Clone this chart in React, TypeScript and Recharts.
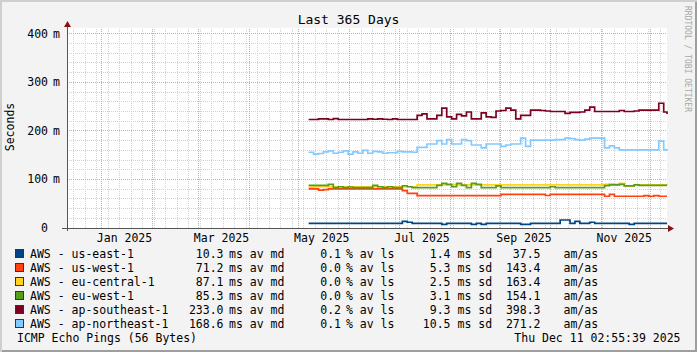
import { LineChart, Line, XAxis, YAxis, CartesianGrid, ReferenceLine } from "recharts";

const FONT = "'DejaVu Sans Mono', monospace";

// day 0 = 11 Dec 2024, day 365 = 11 Dec 2025
const days = Array.from({ length: 73 }, (_, i) => 147 + 3 * i).concat([365]);

const seriesNames = [
  "AWS - us-east-1",
  "AWS - us-west-1",
  "AWS - eu-central-1",
  "AWS - eu-west-1",
  "AWS - ap-southeast-1",
  "AWS - ap-northeast-1",
];
const seriesKeys = ["usEast", "usWest", "euCentral", "euWest", "apSoutheast", "apNortheast"];
const seriesColors = ["#004586", "#ff420e", "#ffd320", "#579d1c", "#7e0021", "#83caff"];

const usEast = [
  9.7, 9.7, 9.7, 9.7, 9.7, 9.7, 9.7, 9.7, 9.7, 9.7,
  9.7, 9.7, 9.7, 9.7, 9.7, 9.7, 9.7, 9.7, 9.7, 13.8,
  11.8, 9.7, 9.7, 9.7, 9.7, 9.7, 9.7, 7.6, 9.7, 9.7,
  9.7, 9.7, 9.7, 7.6, 9.7, 7.6, 9.7, 9.7, 9.7, 9.7,
  9.7, 9.7, 9.7, 7.6, 7.6, 9.7, 9.7, 9.7, 9.7, 9.7,
  9.7, 16.5, 16.5, 9.7, 13.8, 9.7, 9.7, 11.8, 9.7, 9.7,
  9.7, 9.7, 9.7, 9.7, 9.7, 7.6, 9.7, 9.7, 9.7, 9.7,
  9.7, 9.7, 9.7, 9.7,
];
const usWest = [
  80.4, 80.4, 78, 79, 80.4, 80.4, 80.4, 80.4, 80.4, 80.4,
  80.4, 80.4, 80.4, 80.4, 80.4, 80.4, 80.4, 80.4, 80.4, 77,
  71.5, 71.5, 66.7, 66.7, 66.7, 66.7, 66.7, 66.7, 66.7, 66.7,
  66.7, 66.7, 66.7, 66.7, 66.7, 66.7, 66.7, 66.7, 66.7, 69.4,
  69.4, 69.4, 69.4, 69.4, 69.4, 69.4, 69.4, 69.4, 67, 69.4,
  69.4, 69.4, 69.4, 69.4, 69.4, 69.4, 69.4, 69.4, 69.4, 69.4,
  65.4, 69.4, 65.4, 65.4, 65.4, 65.4, 65.4, 65.4, 66.7, 65.4,
  66.7, 65.4, 65.4, 65.4,
];
const euCentral = [
  84, 85, 85, 85, 85, 85, 85, 85, 85, 85,
  85, 85, 85, 85, 85, 85, 85, 85, 85, 85,
  85, 85, 88.7, 88.7, 88.7, 88.7, 88.7, 88.7, 88.7, 88.7,
  88.7, 88.7, 88.7, 88.7, 88.7, 88.7, 88.7, 88.7, 88.7, 88.7,
  88.7, 88.7, 88.7, 88.7, 88.7, 88.7, 88.7, 88.7, 88.7, 88.7,
  88.7, 88.7, 88.7, 88.7, 88.7, 88.7, 88.7, 88.7, 88.7, 88.7,
  90, 91, 90, 92, 86.5, 86.5, 88.7, 88.7, 88.7, 88.7,
  88.7, 88.7, 88.7, 88,
];
const euWest = [
  88, 88, 88, 88, 90, 83, 85, 83, 84.5, 83,
  83, 83, 83, 88, 85, 83, 85, 83, 83, 87,
  85, 83, 83, 83, 83, 83, 88, 92, 90, 85,
  92, 88, 83, 92, 90, 83, 83, 83, 86.6, 83,
  83, 83, 83, 83, 83, 83, 83, 83, 83, 85,
  83, 83, 83, 83, 83, 83, 83, 83, 83, 83,
  87.3, 88.7, 88.7, 90, 86.6, 86.6, 88.7, 88, 88, 88,
  88, 88, 88, 88,
];
const apSoutheast = [
  223.5, 223.5, 225, 225, 223.5, 225.5, 223.5, 223.5, 223.5, 223.5,
  223.5, 223.5, 225, 224, 225, 224, 223.5, 225, 223.5, 223.5,
  223.5, 223.5, 232, 235, 225, 225, 232, 247, 229, 225,
  234, 231, 239, 225, 225, 237, 229, 228, 241, 242,
  247, 243, 225, 232, 232, 243, 243, 242, 241, 240,
  240, 240, 236, 238, 238, 239, 243, 249, 240, 240,
  240, 240, 240, 242, 240, 240, 241, 243, 243, 243,
  243, 257, 239, 235,
];
const apNortheast = [
  156, 152, 153.5, 157, 159, 154, 156, 159, 152, 157,
  154, 160, 154, 158, 157, 154, 155, 155, 158, 157,
  157, 156, 166, 166, 173, 173, 180, 173, 182, 173,
  173, 182, 180, 171, 171, 165, 173, 173, 173, 168,
  171, 173, 173, 185, 168, 181, 181, 181, 181, 181,
  182, 182, 185, 184, 182, 181, 183, 185, 185, 185,
  165, 169, 165, 161, 161, 161, 161, 161, 161, 161,
  161, 179, 161, 159,
];
const seriesValues = [usEast, usWest, euCentral, euWest, apSoutheast, apNortheast];

// legend statistics
const medians = ["10.3", "71.2", "87.1", "85.3", "233.0", "168.6"];
const losses = ["0.1", "0.0", "0.0", "0.0", "0.2", "0.1"];
const stdDevs = ["1.4", "5.3", "2.5", "3.1", "9.3", "10.5"];
const amAs = ["37.5", "143.4", "163.4", "154.1", "398.3", "271.2"];

// axes
const monthStarts = [21, 52, 80, 111, 141, 172, 202, 233, 264, 294, 325, 355];
const weekLines = Array.from({ length: 52 }, (_, k) => 4 + 7 * k);
const labelDays = [35, 94, 155, 216, 278, 339];
const labelTexts = ["Jan 2025", "Mar 2025", "May 2025", "Jul 2025", "Sep 2025", "Nov 2025"];
const yTicks = [0, 100, 200, 300, 400];
const yMinor = Array.from({ length: 20 }, (_, k) => 20 * (k + 1)).filter((v) => v % 100 !== 0);

const data = days.map((t, i) => {
  const row: any = { t };
  seriesKeys.forEach((k, s) => (row[k] = seriesValues[s][i]));
  return row;
});

const txt = { fontFamily: FONT, fontSize: 11.5, fill: "#000" };

const YTick = ({ x, y, payload }: any) => (
  <g>
    <text x={x - 19} y={y + 4} textAnchor="end" {...txt}>{payload.value}</text>
    {payload.value !== 0 && (
      <text x={x - 10.5} y={y + 4} textAnchor="middle" {...txt}>m</text>
    )}
  </g>
);

const XTick = ({ x, y, payload }: any) => (
  <text x={x} y={y + 13.5} textAnchor="middle" {...txt}>
    {labelTexts[labelDays.indexOf(payload.value)]}
  </text>
);

// dotted grid line snapped to the pixel grid
const GridLine = (p: any) => {
  const vertical = p.x1 === p.x2;
  const c = vertical ? Math.floor(p.x1) + 0.5 : Math.floor(p.y1) + 0.5;
  return vertical ? (
    <line x1={c} y1={p.y1} x2={c} y2={p.y2} stroke={p.stroke} strokeDasharray="1 1" strokeWidth={1} />
  ) : (
    <line x1={p.x1} y1={c} x2={p.x2} y2={c} stroke={p.stroke} strokeDasharray="1 1" strokeWidth={1} />
  );
};

const XAxisLine = (p: any) => {
  const left = Math.min(p.x1, p.x2);
  const right = Math.max(p.x1, p.x2);
  const y = Math.floor(p.y1) + 0.5;
  return (
    <g>
      <line x1={left - 5} y1={y} x2={right + 2} y2={y} stroke="#555" strokeWidth={1} />
      <polygon points={`${right + 1},${y - 3.5} ${right + 7},${y} ${right + 1},${y + 3.5}`} fill="#8c1010" />
    </g>
  );
};

const YAxisLine = (p: any) => {
  const top = Math.min(p.y1, p.y2);
  const bottom = Math.max(p.y1, p.y2);
  const x = Math.floor(p.x1) + 0.5;
  return (
    <g>
      <line x1={x} y1={bottom + 3} x2={x} y2={top - 2} stroke="#555" strokeWidth={1} />
      <polygon points={`${x - 3.5},${top - 1} ${x},${top - 7} ${x + 3.5},${top - 1}`} fill="#8c1010" />
    </g>
  );
};

const MINOR = "#d2d2d2";
const MAJOR = "#f19a9a";

export default function App() {
  return (
    <div
      style={{
        position: "relative",
        width: 697,
        height: 352,
        background: "#f3f3f3",
        boxShadow: "inset 2px 2px 0 #cfcfcf, inset -2px -2px 0 #9e9e9e",
      }}
    >
      <style>{"body{margin:0}"}</style>
      <LineChart width={697} height={352} data={data} margin={{ top: 28, right: 30, bottom: 104, left: 7 }}>
        <CartesianGrid horizontal={false} vertical={false} fill="#ffffff" fillOpacity={1} />
        <XAxis
          dataKey="t"
          type="number"
          domain={[0, 365]}
          ticks={labelDays}
          interval={0}
          axisLine={false}
          tickLine={false}
          tickSize={0}
          tickMargin={0}
          height={20}
          tick={<XTick />}
        />
        <YAxis
          type="number"
          domain={[0, 412]}
          ticks={yTicks}
          interval={0}
          axisLine={false}
          tickLine={false}
          tickSize={0}
          tickMargin={0}
          width={60}
          tick={<YTick />}
        />
        {weekLines.map((t) => (
          <ReferenceLine key={"w" + t} x={t} stroke={MINOR} shape={<GridLine />} />
        ))}
        {yMinor.map((v) => (
          <ReferenceLine key={"m" + v} y={v} stroke={MINOR} shape={<GridLine />} />
        ))}
        {monthStarts.map((t) => (
          <ReferenceLine key={"M" + t} x={t} stroke={MAJOR} shape={<GridLine />} />
        ))}
        {yTicks.slice(1).map((v) => (
          <ReferenceLine key={"Y" + v} y={v} stroke={MAJOR} shape={<GridLine />} />
        ))}
        {seriesKeys.map((k, s) => (
          <Line
            key={k}
            dataKey={k}
            type="stepAfter"
            stroke={seriesColors[s]}
            strokeWidth={1.7}
            dot={false}
            isAnimationActive={false}
          />
        ))}
        <ReferenceLine y={0} shape={<XAxisLine />} />
        <ReferenceLine x={0} shape={<YAxisLine />} />
      </LineChart>

      <svg width={697} height={352} style={{ position: "absolute", left: 0, top: 0, pointerEvents: "none" }}>
        <text x={348.5} y={24} textAnchor="middle" fontFamily={FONT} fontSize={13} fill="#000">
          Last 365 Days
        </text>
        <text x={14} y={127} textAnchor="middle" transform="rotate(-90 14 127)" {...txt}>
          Seconds
        </text>
        <text x={685} y={59} textAnchor="middle" transform="rotate(90 685 59)" fontFamily={FONT} fontSize={8} fill="#a8a8a8">
          RRDTOOL / TOBI OETIKER
        </text>
        {seriesNames.map((name, s) => {
          const base = 258 + 14 * s;
          return (
            <g key={name}>
              <rect x={15.5} y={base - 8.5} width={8} height={8} fill={seriesColors[s]} stroke="#333" strokeWidth={1} />
              <text x={30} y={base} {...txt}>{name}</text>
              <text x={223.5} y={base} textAnchor="end" {...txt}>{medians[s]}</text>
              <text x={229} y={base} {...txt}>ms av md</text>
              <text x={341} y={base} textAnchor="end" {...txt}>{losses[s]}</text>
              <text x={346} y={base} {...txt}>% av ls</text>
              <text x={450.5} y={base} textAnchor="end" {...txt}>{stdDevs[s]}</text>
              <text x={457.5} y={base} {...txt}>ms sd</text>
              <text x={540.5} y={base} textAnchor="end" {...txt}>{amAs[s]}</text>
              <text x={563.5} y={base} {...txt}>am/as</text>
            </g>
          );
        })}
        <text x={17} y={341.5} {...txt}>ICMP Echo Pings (56 Bytes)</text>
        <text x={680.5} y={341.5} textAnchor="end" {...txt}>Thu Dec 11 02:55:39 2025</text>
      </svg>
    </div>
  );
}
